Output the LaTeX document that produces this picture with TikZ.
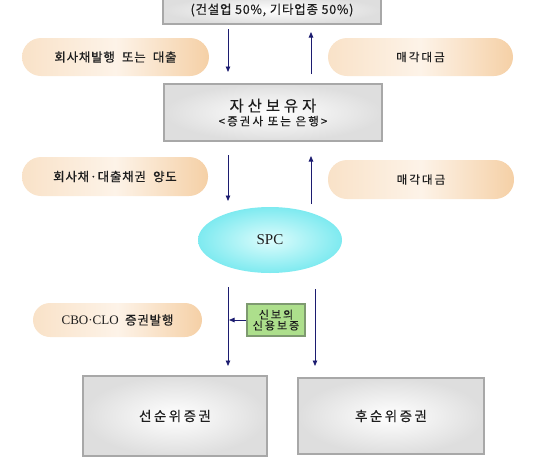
\documentclass[tikz,border=0pt]{standalone}
\usepackage{fontspec}
\setmainfont{Noto Sans CJK KR}
\newfontfamily\kr[LetterSpace=6,FakeBold=0.4]{Noto Sans CJK KR}
\newfontfamily\krw[LetterSpace=18,FakeBold=0.4]{Noto Sans CJK KR}
\newfontfamily\krww[LetterSpace=25,FakeBold=0.3]{Noto Sans CJK KR}
\newfontfamily\lat{Liberation Serif}
\usetikzlibrary{arrows.meta,shapes.geometric}
\definecolor{boxedge}{HTML}{A8A8A8}
\definecolor{boxout}{HTML}{DEDEDE}
\definecolor{peachL}{HTML}{F9E2C8}
\definecolor{peachR}{HTML}{F5D0A6}
\definecolor{peachM}{HTML}{FDF3E8}
\definecolor{cyanO}{HTML}{7EEAF0}
\definecolor{cyanI}{HTML}{DDFCFC}
\definecolor{navy}{HTML}{1C1C70}
\definecolor{greenF}{HTML}{ADDF8C}
\definecolor{greenE}{HTML}{7E9A70}
\definecolor{txt}{HTML}{1E1E1E}
\tikzset{
  graybox/.style={draw=boxedge, line width=1.4pt, inner color=white, outer color=boxout,
    text=txt, inner sep=0pt, align=center},
  pill/.style={rounded corners=#1, left color=peachL, right color=peachR, middle color=peachM,
    text=txt, inner sep=0pt},
  conn/.style={draw=navy, line width=0.8pt, -{Triangle[length=5.5pt,width=4.5pt]}},
}
\begin{document}
\begin{tikzpicture}[x=1pt,y=-1pt]
\useasboundingbox (0,0) rectangle (550,461);
\clip (0,0) rectangle (550,461);
% boxes
\node[graybox, minimum width=218pt, minimum height=28pt] (top) at (272,10)
  {\kr\fontsize{12.5}{14}\selectfont (건설업 50\%, 기타업종 50\%)};
\node[graybox, minimum width=218pt, minimum height=57pt] (holder) at (273,112.5)
  {\krww\fontsize{15.5}{18}\selectfont 자산보유자\\[2pt]
   \krw\fontsize{11.5}{13}\selectfont <증권사 또는 은행>};
% pills
\node[pill=19pt, minimum width=187pt, minimum height=38pt] (p1) at (115.5,57)
  {\kr\fontsize{12.5}{14}\selectfont 회사채발행 \ 또는 \ 대출};
\node[pill=19pt, minimum width=185pt, minimum height=38pt] (p2) at (420.5,57)
  {\krw\fontsize{11.5}{14}\selectfont 매각대금};
\node[pill=19pt, minimum width=186pt, minimum height=39pt] (p3) at (115,176.5)
  {\kr\fontsize{12.5}{14}\selectfont 회사채·대출채권 \ 양도};
\node[pill=19pt, minimum width=186pt, minimum height=39pt] (p4) at (421,179.5)
  {\krw\fontsize{11.5}{14}\selectfont 매각대금};
\node[pill=17pt, minimum width=169pt, minimum height=34pt] (p5) at (117.5,320)
  {\lat\fontsize{13}{14}\selectfont CBO·CLO\ \ \kr\fontsize{12.5}{14}\selectfont 증권발행};
% SPC
\node[ellipse, inner sep=0pt, minimum width=144pt, minimum height=66pt,
  inner color=cyanI, outer color=cyanO, text=txt] (spc) at (270,240)
  {\lat\fontsize{15}{16}\selectfont SPC};
% guarantee
\node[draw=greenE, line width=1.2pt, fill=greenF, minimum width=58pt, minimum height=32pt,
  inner sep=0pt, align=center, text=txt, font=\krw\fontsize{11}{12}\selectfont] (gua) at (276,320)
  {신보의\\[-1pt]신용보증};
% bottom boxes
\node[graybox, minimum width=184pt, minimum height=80pt] (senior) at (175,416)
  {\krw\fontsize{13.5}{15}\selectfont 선순위증권};
\node[graybox, minimum width=186pt, minimum height=76pt] (junior) at (391,416)
  {\krw\fontsize{13.5}{15}\selectfont 후순위증권};
% connector end points
\coordinate (a1s) at (228,29);  \coordinate (a1e) at (228,72);
\coordinate (b1s) at (311,74);  \coordinate (b1e) at (311,32);
\coordinate (a2s) at (228,155); \coordinate (a2e) at (228,201);
\coordinate (b2s) at (311,204); \coordinate (b2e) at (311,156);
\coordinate (a3s) at (228,287); \coordinate (a3e) at (228,366);
\coordinate (b3s) at (315,289); \coordinate (b3e) at (315,366);
\coordinate (g3e) at (229,320);
\draw[conn] (a1s) -- (a1e);
\draw[conn] (b1s) -- (b1e);
\draw[conn] (a2s) -- (a2e);
\draw[conn] (b2s) -- (b2e);
\draw[conn] (a3s) -- (a3e);
\draw[conn] (b3s) -- (b3e);
\draw[conn] (gua.west) -- (g3e);
\end{tikzpicture}
\end{document}
